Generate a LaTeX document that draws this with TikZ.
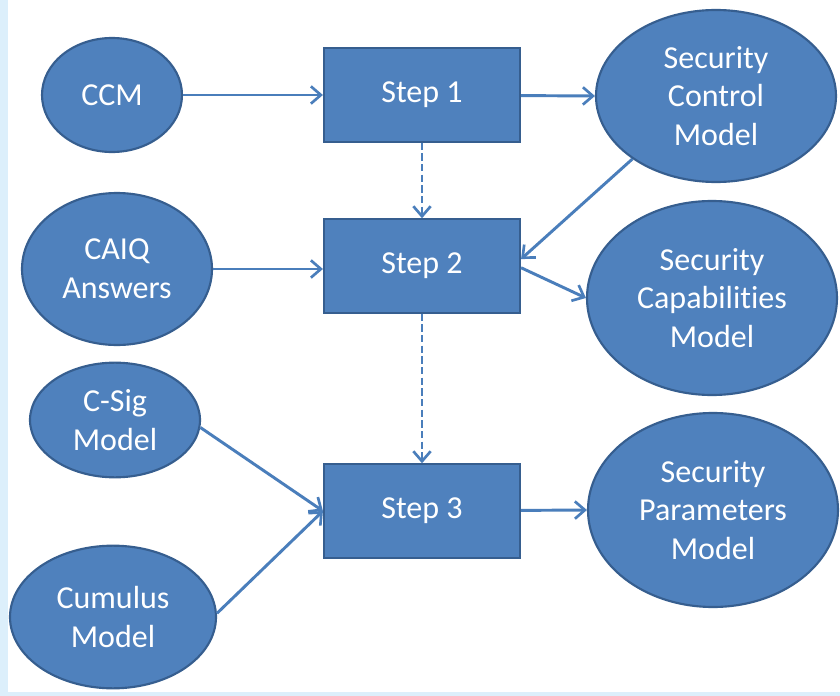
\documentclass[tikz,border=0pt]{standalone}
\usepackage{fontspec}
\setmainfont[Ligatures=NoCommon,Contextuals=NoAlternate]{Carlito}
\usepackage{tikz}
\usetikzlibrary{shapes,arrows.meta,calc}
\usepackage{xcolor}
\definecolor{boxblue}{HTML}{4F81BD}
\definecolor{edgeblue}{HTML}{365E8F}
\definecolor{lineblue}{HTML}{4A7EBB}
\definecolor{bandblue}{HTML}{DCEFFB}

\tikzset{
  model/.style={ellipse,draw=edgeblue,fill=boxblue,line width=1.6pt,inner sep=0pt,
    text=white,align=center,font=\fontsize{24}{29}\selectfont},
  stepbox/.style={rectangle,draw=edgeblue,fill=boxblue,line width=1.6pt,inner sep=0pt,
    minimum width=147pt,minimum height=70pt,text=white,font=\fontsize{24}{29}\selectfont},
  flow/.style={draw=lineblue,line width=2.2pt,-{Straight Barb[length=7.5pt,width=13pt,line width=2pt]}},
  hint/.style={flow,dash pattern=on 5.5pt off 2.5pt}
}

\begin{document}
\begin{tikzpicture}[x=0.75pt,y=-0.75pt]
% Fundo
\fill[white] (0,0) rectangle (840,696);
\fill[bandblue] (0,0) rectangle (8,696);
\fill[bandblue] (0,692) rectangle (840,696);
\useasboundingbox (0,0) rectangle (840,696);
% Entradas
\node[model,minimum width=105pt,minimum height=85.5pt] (ccm) at (112,95) {CCM};
\node[model,minimum width=142.5pt,minimum height=114pt] (caiq) at (117,269) {CAIQ\\Answers};
\node[model,minimum width=127.5pt,minimum height=86pt] (csig) at (115,420) {C-Sig\\Model};
\node[model,minimum width=154.5pt,minimum height=107pt] (cum) at (113,617) {Cumulus\\Model};
% Passos
\node[stepbox] (s1) at (422,95) {Step 1};
\node[stepbox] (s2) at (422,266) {Step 2};
\node[stepbox] (s3) at (422,511) {Step 3};
% Saidas
\node[model,minimum width=180pt,minimum height=129pt] (scm) at (716,96) {Security\\Control\\Model};
\node[model,minimum width=187.5pt,minimum height=145.5pt] (scap) at (712,298) {Security\\Capabili\kern0pt ties\\Model};
\node[model,minimum width=187.5pt,minimum height=145.5pt] (spm) at (713,510) {Security\\Parameters\\Model};
% Setas
\draw[flow] (ccm) -- (s1);
\draw[flow] (s1) -- (scm.west);
\draw[hint] (s1) -- (s2);
\draw[flow] (scm.217) -- (s2.4);
\draw[flow] (caiq.east) -- (caiq.east -| s2.west);
\draw[flow] (s2.-1) -- (scap.west);
\draw[hint] (s2) -- (s3);
\draw[flow] (csig.-5) -- (s3.west);
\draw[flow] (cum.2) -- (s3.west);
\draw[flow] (s3) -- (spm.west);
\end{tikzpicture}
\end{document}
